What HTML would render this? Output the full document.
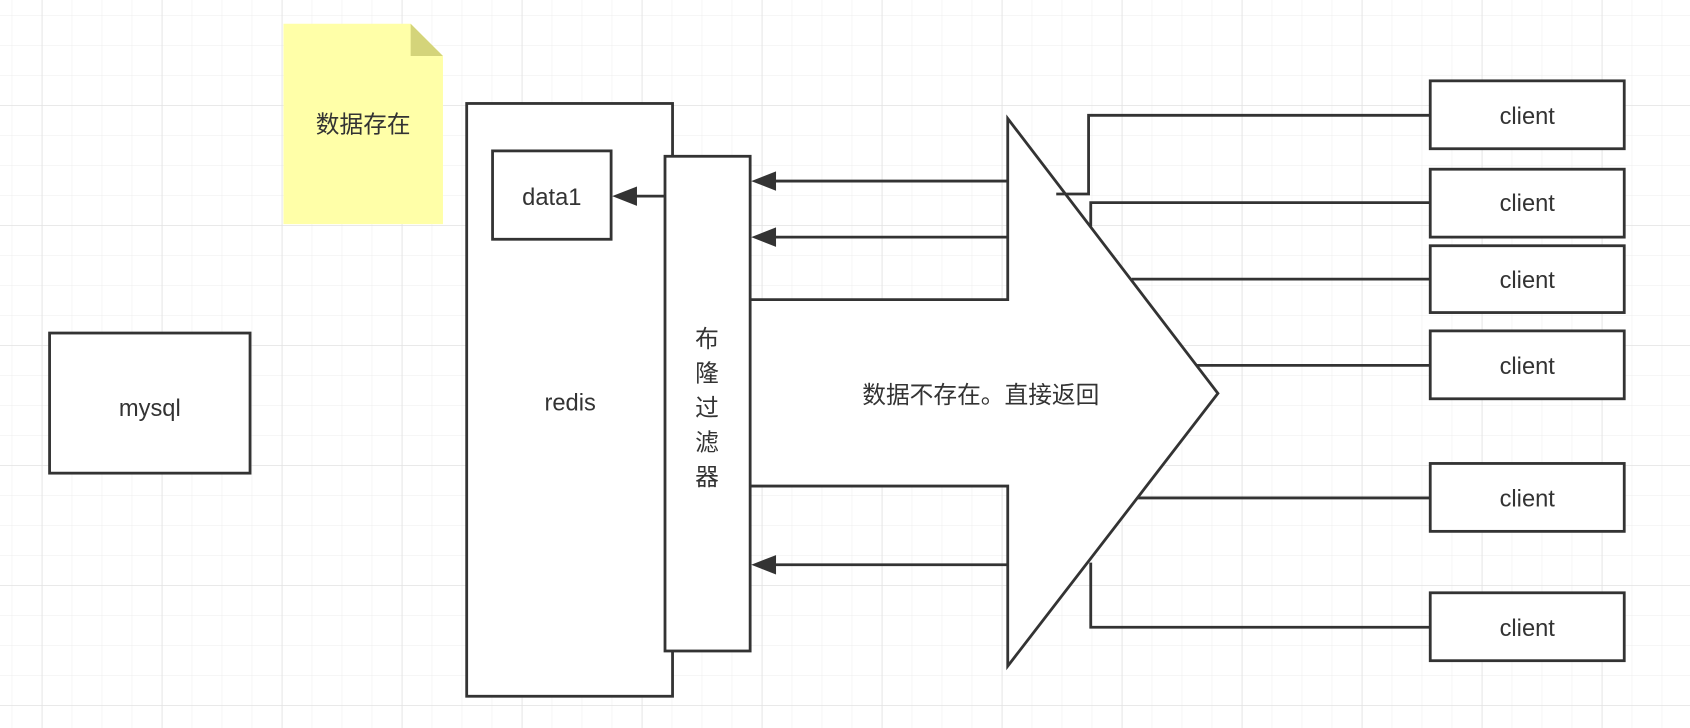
<!DOCTYPE html>
<html><head><meta charset="utf-8"><style>
html,body{margin:0;padding:0;background:#fff;}
svg{display:block;}
text{font-family:"Liberation Sans","Noto Sans CJK SC",sans-serif;fill:#333;}
</style></head><body>
<svg width="1690" height="728" viewBox="0 0 1690 728" xmlns="http://www.w3.org/2000/svg">
<defs>
<pattern id="minor" x="11.7" y="15" width="30" height="30" patternUnits="userSpaceOnUse">
<path d="M0 0H30M0 0V30" stroke="#ececec" stroke-width="1" fill="none"/>
</pattern>
<pattern id="major" x="41.7" y="105" width="120" height="120" patternUnits="userSpaceOnUse">
<path d="M0 0H120M0 0V120" stroke="#e2e2e2" stroke-width="1.5" fill="none"/>
</pattern>
</defs>
<rect width="1690" height="728" fill="url(#minor)"/>
<rect width="1690" height="728" fill="url(#major)"/>
<g transform="scale(1.0778)" stroke="#333" stroke-width="2.6" fill="none">
  <path d="M263 22H381L411 52V208H263Z" fill="#ffffa8" stroke="none"/>
  <path d="M381 22L411 52H381Z" fill="#d4d47a" stroke="none"/>
  <rect x="46" y="309" width="186" height="130" fill="#fff"/>
  <rect x="433" y="96" width="191" height="550" fill="#fff"/>
  <rect x="457" y="140" width="110" height="82" fill="#fff"/>
  <path d="M697 278H935V110L1130 365L935 618V451H697" fill="#fff"/>
  <rect x="617" y="145" width="79" height="459" fill="#fff"/>
  <path d="M935 168H712M935 220H712M935 524H712M617 182H585"/>
  <g fill="#333" stroke="none">
    <path d="M697 168L720 159V177Z"/>
    <path d="M697 220L720 211V229Z"/>
    <path d="M697 524L720 515V533Z"/>
    <path d="M568 182L591 173V191Z"/>
  </g>
  <path d="M1327 107H1010V180H980"/>
  <path d="M1327 188H1012V210"/>
  <path d="M1327 259H1050"/>
  <path d="M1327 339H1110"/>
  <path d="M1327 462H1055"/>
  <path d="M1327 582H1012V522"/>
  <rect x="1327" y="75" width="180" height="63" fill="#fff"/>
  <rect x="1327" y="157" width="180" height="63" fill="#fff"/>
  <rect x="1327" y="228" width="180" height="62" fill="#fff"/>
  <rect x="1327" y="307" width="180" height="63" fill="#fff"/>
  <rect x="1327" y="430" width="180" height="63" fill="#fff"/>
  <rect x="1327" y="550" width="180" height="63" fill="#fff"/>
  <g stroke="none" font-size="22" text-anchor="middle" fill="#333">
    <text x="337" y="123" fill="#333">数据存在</text>
    <text x="139" y="386" fill="#333">mysql</text>
    <text x="529" y="381" fill="#333">redis</text>
    <text x="512" y="190" fill="#333">data1</text>
    <text x="910" y="374" fill="#333">数据不存在。直接返回</text>
    <text x="656" y="322" fill="#333">布</text>
    <text x="656" y="354" fill="#333">隆</text>
    <text x="656" y="386" fill="#333">过</text>
    <text x="656" y="418" fill="#333">滤</text>
    <text x="656" y="450" fill="#333">器</text>
    <text x="1417" y="115" fill="#333">client</text>
    <text x="1417" y="196" fill="#333">client</text>
    <text x="1417" y="267" fill="#333">client</text>
    <text x="1417" y="347" fill="#333">client</text>
    <text x="1417" y="470" fill="#333">client</text>
    <text x="1417" y="590" fill="#333">client</text>
  </g>
</g>
</svg>
</body></html>
